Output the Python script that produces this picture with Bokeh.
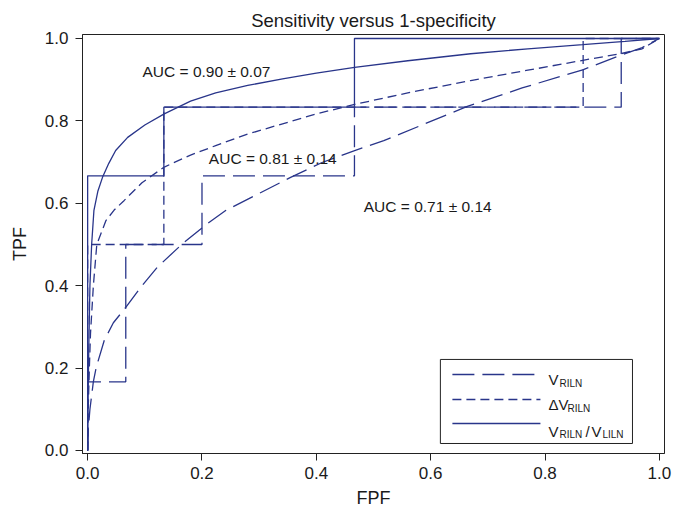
from bokeh.plotting import figure
from bokeh.models import Range1d, FixedTicker, PrintfTickFormatter, BoxAnnotation, Label
from bokeh.embed import file_html
from bokeh.resources import INLINE

# ---------------- data ----------------
xticks = [0.0, 0.2, 0.4, 0.6, 0.8, 1.0]
yticks = [0.0, 0.2, 0.4, 0.6, 0.8, 1.0]

# empirical (step) ROC curves
v_step_x = [0.0, 0.0, 0.0667, 0.0667, 0.2, 0.2, 0.4667, 0.4667, 0.9333, 0.9333, 1.0]
v_step_y = [0.0, 0.1667, 0.1667, 0.5, 0.5, 0.6667, 0.6667, 0.8333, 0.8333, 1.0, 1.0]

dv_step_x = [0.0, 0.0, 0.1333, 0.1333, 0.8667, 0.8667, 1.0]
dv_step_y = [0.0, 0.5, 0.5, 0.8333, 0.8333, 1.0, 1.0]

r_step_x = [0.0, 0.0, 0.1333, 0.1333, 0.4667, 0.4667, 1.0]
r_step_y = [0.0, 0.6667, 0.6667, 0.8333, 0.8333, 1.0, 1.0]

# fitted (smooth) ROC curves
v_fit_x = [0.0, 0.001, 0.004, 0.010, 0.015, 0.029, 0.045, 0.067, 0.095, 0.122, 0.166,
           0.209, 0.242, 0.29, 0.355, 0.41, 0.467, 0.518, 0.59, 0.664, 0.76, 0.866,
           0.932, 0.97, 1.0]
v_fit_y = [0.0, 0.05, 0.10, 0.167, 0.202, 0.267, 0.31, 0.348, 0.40, 0.445, 0.502,
           0.550, 0.583, 0.617, 0.663, 0.699, 0.728, 0.752, 0.793, 0.835, 0.88, 0.924,
           0.959, 0.978, 1.0]

dv_fit_x = [0.0, 0.001, 0.003, 0.005, 0.010, 0.016, 0.032, 0.046, 0.064, 0.095, 0.134,
            0.18, 0.224, 0.28, 0.341, 0.40, 0.467, 0.56, 0.67, 0.77, 0.866, 0.932,
            0.97, 1.0]
dv_fit_y = [0.0, 0.10, 0.20, 0.284, 0.40, 0.50, 0.558, 0.583, 0.607, 0.65, 0.688,
            0.717, 0.740, 0.768, 0.793, 0.817, 0.840, 0.868, 0.898, 0.923, 0.947, 0.963,
            0.975, 1.0]

r_fit_x = [0.0, 0.0005, 0.002, 0.004, 0.007, 0.011, 0.018, 0.026, 0.037, 0.049, 0.07,
           0.10, 0.134, 0.18, 0.224, 0.28, 0.341, 0.40, 0.467, 0.56, 0.67, 0.77,
           0.866, 0.94, 1.0]
r_fit_y = [0.0, 0.10, 0.25, 0.40, 0.50, 0.583, 0.63, 0.663, 0.697, 0.728, 0.76,
           0.79, 0.817, 0.848, 0.868, 0.886, 0.902, 0.916, 0.930, 0.946, 0.963, 0.975,
           0.985, 0.993, 1.0]

auc_texts = ["AUC = 0.90 \u00b1 0.07", "AUC = 0.81 \u00b1 0.14", "AUC = 0.71 \u00b1 0.14"]

# ---------------- styling / layout ----------------
NAVY = "#29358a"
FONT = "Liberation Sans"
TXT = "#1a1a1a"
LONG = "22 8"
SHORT = "9 5"
LW = 1.3

p = figure(width=682, height=512, output_backend="svg", toolbar_location=None,
           x_range=Range1d(-0.009, 1.009), y_range=Range1d(-0.0073, 1.0097),
           min_border_left=82, min_border_right=18, min_border_top=34, min_border_bottom=59,
           title="Sensitivity versus 1-specificity")
p.title.align = "center"
p.title.text_font = FONT
p.title.text_font_size = "18.5px"
p.title.text_font_style = "normal"
p.title.text_color = TXT
p.title.standoff = 7

p.xgrid.visible = False
p.ygrid.visible = False
p.outline_line_color = "#222222"
p.outline_line_width = 1
p.background_fill_color = "white"
p.border_fill_color = "white"

p.xaxis.ticker = FixedTicker(ticks=xticks)
p.yaxis.ticker = FixedTicker(ticks=yticks)
p.xaxis.formatter = PrintfTickFormatter(format="%.1f")
p.yaxis.formatter = PrintfTickFormatter(format="%.1f")
p.xaxis.axis_label = "FPF"
p.yaxis.axis_label = "TPF"
for ax in (p.xaxis, p.yaxis):
    ax.axis_line_color = "#222222"
    ax.major_tick_line_color = "#222222"
    ax.major_tick_out = 7
    ax.major_tick_in = 0
    ax.minor_tick_line_color = None
    ax.major_label_text_font = FONT
    ax.major_label_text_font_size = "17px"
    ax.major_label_text_color = TXT
    ax.axis_label_text_font = FONT
    ax.axis_label_text_font_size = "18px"
    ax.axis_label_text_font_style = "normal"
    ax.axis_label_text_color = TXT
p.xaxis.major_label_standoff = 6
p.yaxis.major_label_standoff = 7
p.xaxis.axis_label_standoff = 6
p.yaxis.axis_label_standoff = 12

# legend box (drawn beneath the glyphs; no curve passes through it)
p.add_layout(BoxAnnotation(left=0.617, right=0.953, bottom=0.017, top=0.221,
                           fill_color="white", fill_alpha=1.0,
                           line_color="#222222", line_alpha=1.0, line_width=1,
                           level="underlay"))

# step curves
p.line(v_step_x, v_step_y, line_color=NAVY, line_width=LW, line_dash=LONG)
p.line(dv_step_x, dv_step_y, line_color=NAVY, line_width=LW, line_dash=SHORT)
p.line(r_step_x, r_step_y, line_color=NAVY, line_width=LW)
# fitted curves
p.line(v_fit_x, v_fit_y, line_color=NAVY, line_width=LW, line_dash=LONG)
p.line(dv_fit_x, dv_fit_y, line_color=NAVY, line_width=LW, line_dash=SHORT)
p.line(r_fit_x, r_fit_y, line_color=NAVY, line_width=LW)

# AUC annotations
auc_pos = [(0.096, 0.921), (0.212, 0.708), (0.483, 0.593)]
for t, (tx, ty) in zip(auc_texts, auc_pos):
    p.add_layout(Label(x=tx, y=ty, text=t, text_font=FONT, text_font_size="15.5px",
                       text_color=TXT, text_baseline="alphabetic", text_align="left"))

# custom legend samples
leg_x0, leg_x1 = 0.638, 0.792
row_line_y = [0.1845, 0.1238, 0.0655]
row_dash = [LONG, SHORT, None]
for ly, dsh in zip(row_line_y, row_dash):
    kw = dict(line_color=NAVY, line_width=LW)
    if dsh:
        kw["line_dash"] = dsh
    p.segment(x0=[leg_x0], y0=[ly], x1=[leg_x1], y1=[ly], **kw)

text_x = 0.806
row_base_y = [0.1716, 0.1117, 0.0468]
legend_parts = [
    [("V", 0, 0, 15), ("RILN", 11, -4, 10)],
    [("\u0394V", 0, 0, 15), ("RILN", 19, -4, 10)],
    [("V", 0, 0, 15), ("RILN", 11, -3, 10), ("/", 37, 0, 15), ("V", 43, 0, 15), ("LILN", 54, -3, 10)],
]
for by, parts in zip(row_base_y, legend_parts):
    for t, dx, dy, fs in parts:
        p.add_layout(Label(x=text_x, y=by, x_offset=dx, y_offset=dy, text=t,
                           text_font=FONT, text_font_size=f"{fs}px", text_color=TXT,
                           text_baseline="alphabetic", text_align="left"))

open("out.html", "w").write(file_html(p, INLINE))
